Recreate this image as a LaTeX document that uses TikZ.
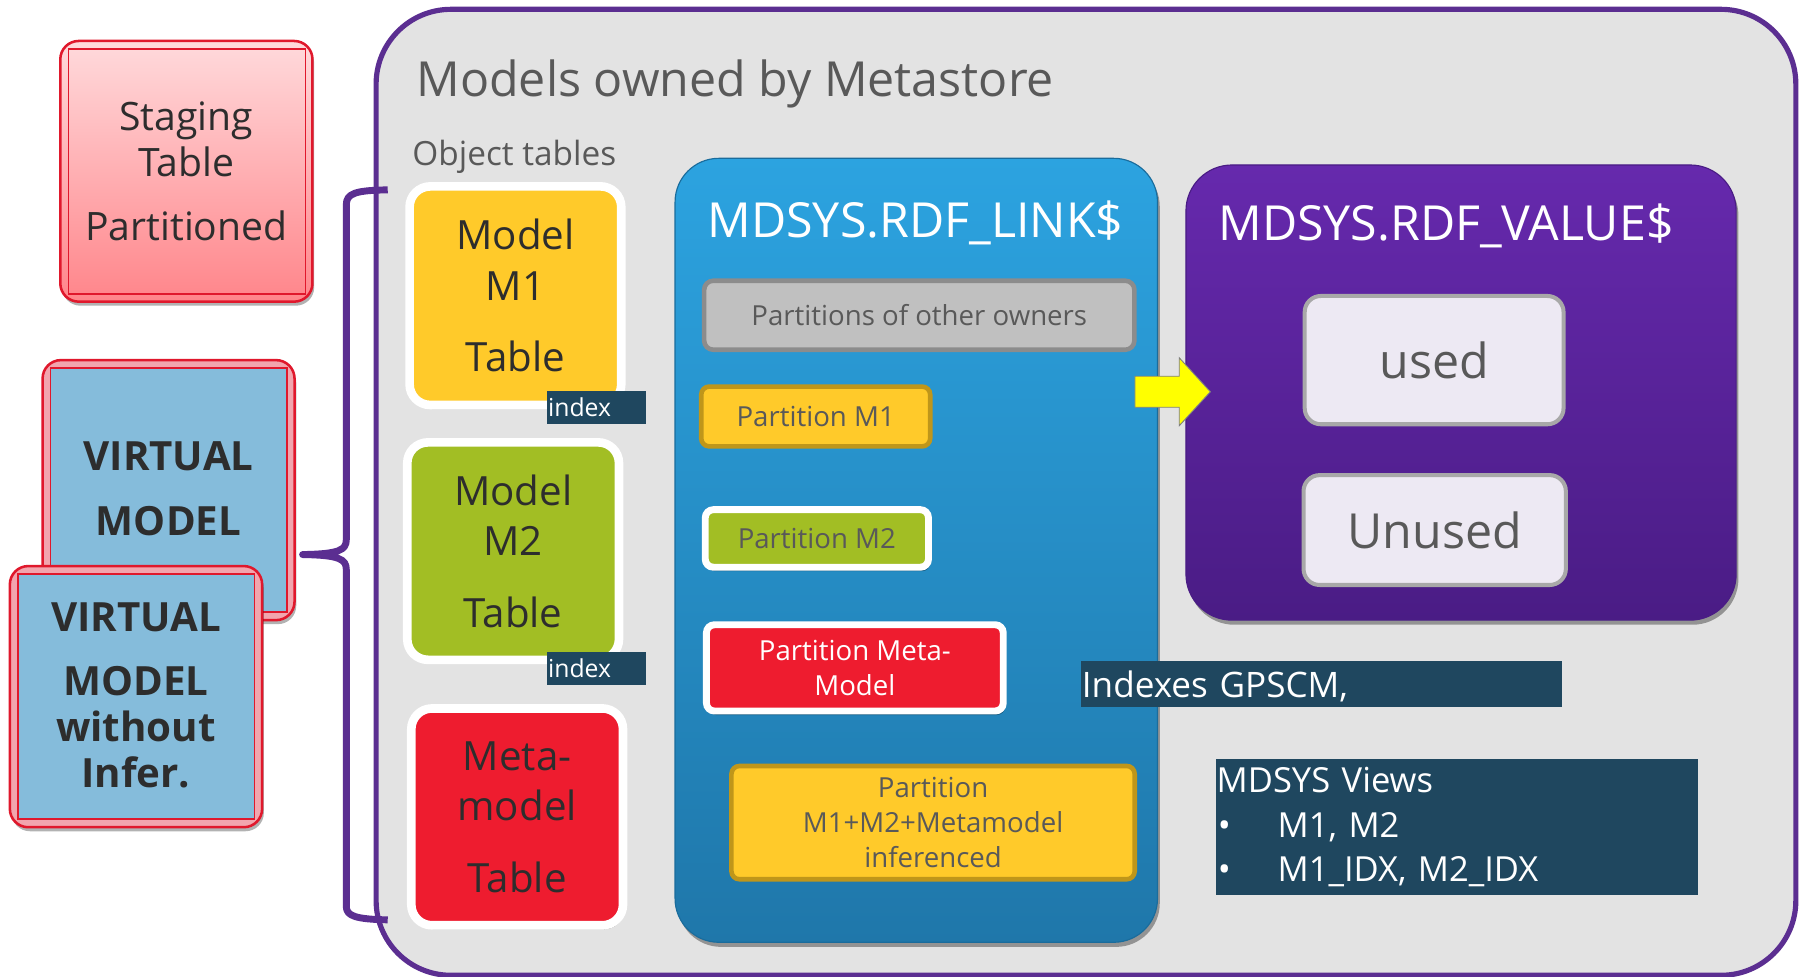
\documentclass[tikz,border=0pt]{standalone}
\usepackage{fontspec}
\setmainfont{Open Sans}
\usetikzlibrary{shadows}

\definecolor{panelgray}{HTML}{E3E3E3}
\definecolor{brandpurple}{HTML}{5B2E91}
\definecolor{titlegray}{HTML}{595959}
\definecolor{darktext}{HTML}{2D2D2D}
\definecolor{stagetop}{HTML}{FFDADC}
\definecolor{stagebot}{HTML}{FF858A}
\definecolor{edgered}{HTML}{E0182C}
\definecolor{vblue}{HTML}{85BCDB}
\definecolor{vpink}{HTML}{F2A5AE}
\definecolor{tblyellow}{HTML}{FFCA2A}
\definecolor{tblgold}{HTML}{BF961A}
\definecolor{tblgreen}{HTML}{A2BE24}
\definecolor{tblred}{HTML}{EE1C2F}
\definecolor{linktop}{HTML}{2CA3E0}
\definecolor{linkbot}{HTML}{1F77AA}
\definecolor{linkedge}{HTML}{1A6C9C}
\definecolor{valtop}{HTML}{6629AD}
\definecolor{valbot}{HTML}{4A1C85}
\definecolor{othersfill}{HTML}{C0C0C0}
\definecolor{othersedge}{HTML}{8C8C8C}
\definecolor{usedfill}{HTML}{EDE9F3}
\definecolor{usededge}{HTML}{A8A8A8}
\definecolor{deepteal}{HTML}{1F475F}
\definecolor{arrowyellow}{HTML}{FFFF00}

\newcommand\fsz[2]{\fontsize{#1}{#2}\selectfont}

\begin{document}
\begin{tikzpicture}[x=1pt,y=-1pt,
  every node/.style={inner sep=0pt, outer sep=0pt},
  softshadow/.style={drop shadow={shadow xshift=1.5pt, shadow yshift=-3.5pt, opacity=0.3, fill=black}},
  outerbox/.style={draw=brandpurple, line width=4.5pt, fill=panelgray, rounded corners=65pt},
  stagebox/.style={draw=edgered, line width=2.2pt, rounded corners=16pt, top color=stagetop, bottom color=stagebot, softshadow,
    text=darktext, align=center, font=\fsz{34}{39.6}},
  vbox/.style={draw=edgered, line width=2.2pt, rounded corners=16pt, fill=vpink, softshadow},
  vinner/.style={fill=vblue, draw=edgered, line width=1.2pt},
  vtext/.style={text=darktext, align=center, font=\bfseries\fsz{35}{40}},
  modelbox/.style={draw=white, line width=7.5pt, rounded corners=18pt, minimum width=184pt, minimum height=190pt, softshadow,
    text=darktext, align=center, font=\fsz{35}{44}},
  idxlabel/.style={fill=deepteal, text=white, font=\fsz{21.5}{25}, text width=84pt, inner xsep=1.2pt, minimum height=28.5pt, align=left, anchor=north west},
  linkbox/.style={draw=linkedge, line width=1pt, rounded corners=38pt, top color=linktop, bottom color=linkbot,
    drop shadow={shadow xshift=2pt, shadow yshift=-4pt, opacity=0.35, fill=black}},
  valbox/.style={draw=valbot, line width=1pt, rounded corners=40pt, top color=valtop, bottom color=valbot,
    drop shadow={shadow xshift=2pt, shadow yshift=-4pt, opacity=0.35, fill=black}},
  boxtitle/.style={anchor=base west, text=white, font=\fsz{42}{50}},
  partbox/.style={rounded corners=7pt, text=titlegray, align=center, font=\fsz{24}{30.5}},
  goldpart/.style={partbox, fill=tblyellow, draw=tblgold, line width=4pt},
  whitepart/.style={partbox, draw=white, line width=6pt, softshadow},
  valuecell/.style={fill=usedfill, draw=usededge, line width=3.5pt, rounded corners=14pt, text=titlegray, font=\fsz{42}{50}},
  tealbox/.style={fill=deepteal, text=white, align=left, anchor=north west},
  bracestyle/.style={draw=brandpurple, line width=6pt, line join=round},
  yellowarrow/.style={fill=arrowyellow, draw=gray, line width=0.8pt, line join=miter}
]
\useasboundingbox (0,0) rectangle (1568,849);
\fill[white] (0,0) rectangle (1568,849);

% metastore panel
\node[outerbox, minimum width=1234pt, minimum height=839.6pt] (outer) at (943.9,427.9) {};
\node[anchor=base west, text=titlegray, font=\fsz{42}{50}] (title) at (362,84) {Models owned by Metastore};
\node[anchor=base west, text=titlegray, font=\fsz{29}{35}] (objtables) at (358.5,144) {Object tables};

% staging table
\node[stagebox, minimum width=219.2pt, minimum height=226.6pt] (staging) at (162,148.9) {Staging\\Table\\[16.4pt]Partitioned};
\draw[edgered, line width=1.2pt] ([xshift=7pt,yshift=-7pt]staging.north west) rectangle ([xshift=-6.2pt,yshift=6.7pt]staging.south east);

% virtual models
\node[vbox, minimum width=219pt, minimum height=226pt] (vm) at (146.5,426) {};
\draw[vinner] ([xshift=6.9pt,yshift=-7pt]vm.north west) rectangle ([xshift=-6.5pt,yshift=7pt]vm.south east);
\node[vtext] (vmtext) at (146.5,425) {VIRTUAL\\[16.4pt]MODEL};

\node[vbox, minimum width=219.3pt, minimum height=227pt] (vmni) at (118.2,605.5) {};
\draw[vinner] ([xshift=7pt,yshift=-7pt]vmni.north west) rectangle ([xshift=-6.8pt,yshift=7pt]vmni.south east);
\node[vtext] (vmnitext) at (118.2,604.5) {VIRTUAL\\[15.7pt]MODEL\\without\\Infer.};

% grouping brace
\coordinate (bracetop) at (337,165);
\coordinate (bracetip) at (263,482);
\coordinate (bracebot) at (337,799.5);
\draw[bracestyle] (bracetop) .. controls (309,165.5) and (301,168) .. (301,178) -- (301,469)
  .. controls (301,478) and (295,481.5) .. (bracetip)
  .. controls (295,482.5) and (301,486) .. (301,495) -- (301,788)
  .. controls (301,796) and (309,799) .. (bracebot);

% object tables
\node[modelbox, fill=tblyellow] (m1) at (448,257) {Model\\M1\\[18pt]Table};
\node[modelbox, fill=tblgreen, minimum height=189pt] (m2) at (446,479) {Model\\M2\\[18pt]Table};
\node[modelbox, fill=tblred, minimum height=188.5pt] (meta) at (449.5,710) {Meta-\\model\\[18pt]Table};
\node[idxlabel] (idx1) at (475.2,340) {index};
\node[idxlabel] (idx2) at (475.2,566.7) {index};

% link table
\node[linkbox, minimum width=419.3pt, minimum height=681.4pt] (link) at (796.4,478.3) {};
\node[boxtitle] (linktitle) at (615,206.3) {MDSYS.RDF\_LINK\$};
\node[partbox, fill=othersfill, draw=othersedge, line width=4pt, rounded corners=8pt, minimum width=374pt, minimum height=60pt] (others) at (799,274) {Partitions of other owners};
\node[goldpart, minimum width=199pt, minimum height=52pt] (pm1) at (709,362) {Partition M1};
\node[whitepart, fill=tblgreen, minimum width=194pt, minimum height=50pt] (pm2) at (710,468) {Partition M2};
\node[whitepart, fill=tblred, text=white, minimum width=258pt, minimum height=75pt] (pmeta) at (743,580.5) {Partition Meta-\\Model};
\node[goldpart, minimum width=350.5pt, minimum height=98.5pt] (pinf) at (811,715) {Partition\\M1+M2+Metamodel\\inferenced};

% value table
\node[valbox, minimum width=478.2pt, minimum height=395.6pt] (value) at (1269.9,341.2) {};
\node[boxtitle] (valuetitle) at (1059,209) {MDSYS.RDF\_VALUE\$};
\node[valuecell, minimum width=225pt, minimum height=111.5pt] (used) at (1246.5,313) {used};
\node[valuecell, minimum width=228pt, minimum height=95.5pt] (unused) at (1247,460.7) {Unused};

% link-to-value arrow
\coordinate (arrtail) at (986.5,340.5);
\draw[yellowarrow] (arrtail) ++(0,-13.5) -- ++(38.5,0) -- ++(0,-16) -- ++(27,29.5) -- ++(-27,29.5) -- ++(0,-16) -- ++(-38.5,0) -- cycle;

% index and view notes
\node[tealbox, text width=416.5pt, inner xsep=0.8pt, inner ysep=3.35pt, text height=28pt, text depth=5pt, font=\fsz{30.5}{36}] (gpscm) at (939.6,574.5) {Indexes GPSCM,};
\node[tealbox, text width=417.5pt, inner xsep=0.5pt, minimum height=118.3pt, font=\fsz{30}{38.7}] (views) at (1057,659.7)
  {MDSYS Views\\\makebox[53pt][l]{\hspace{1pt}•}M1, M2\\\makebox[53pt][l]{\hspace{1pt}•}M1\_IDX, M2\_IDX};
\end{tikzpicture}
\end{document}
